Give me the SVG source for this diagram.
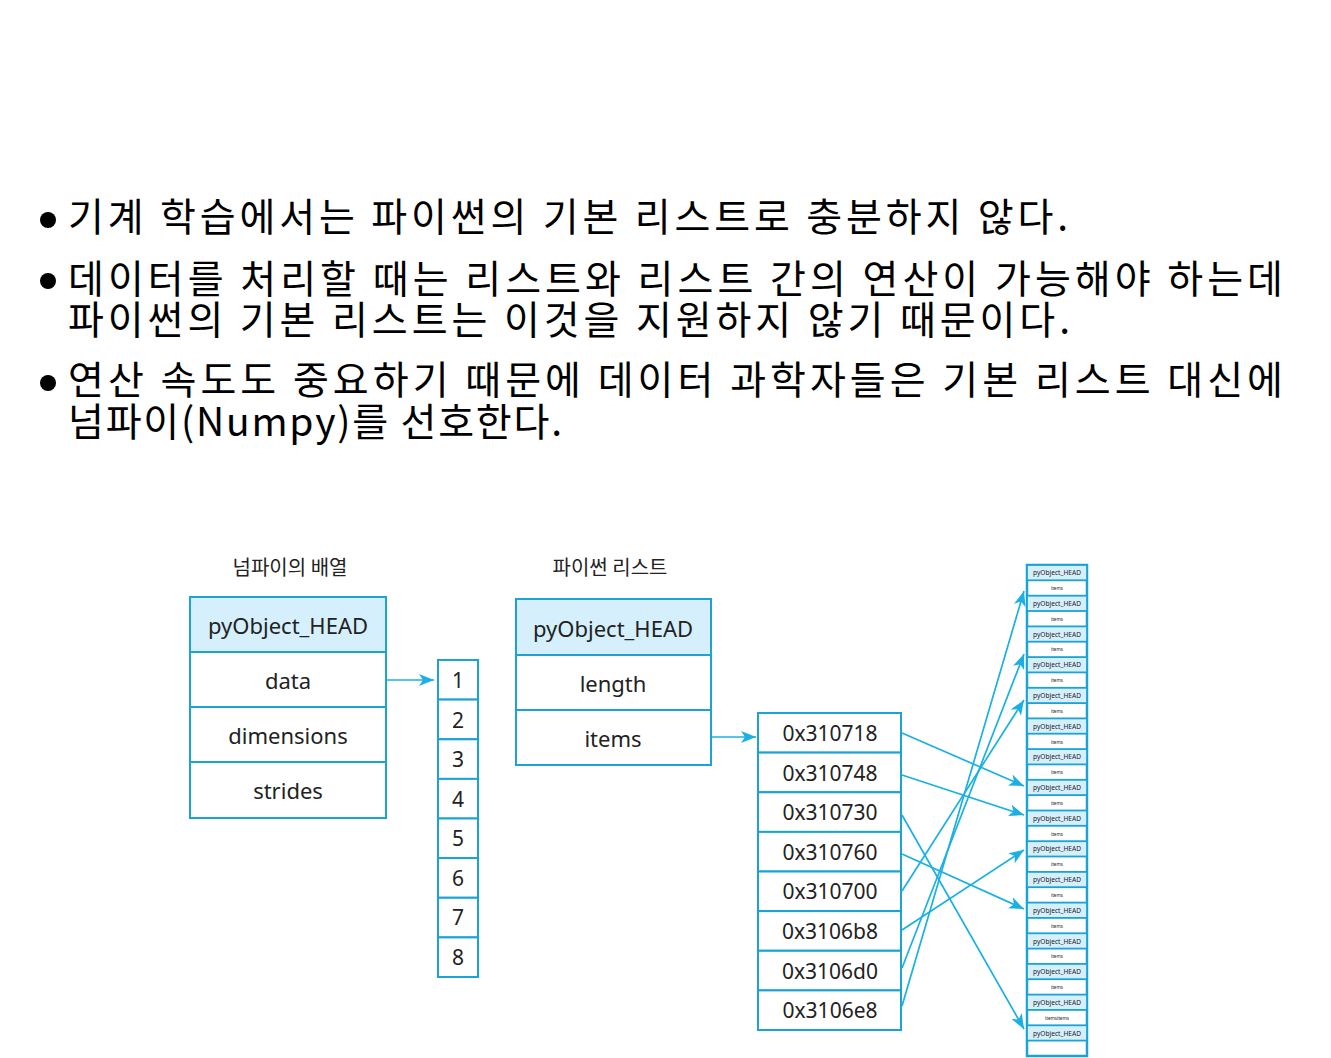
<svg xmlns="http://www.w3.org/2000/svg" width="1331" height="1058" viewBox="0 0 1331 1058">
<style>
.bt{font-family:'Noto Sans CJK KR','Noto Sans',sans-serif;font-size:39px;fill:#000}
.t{font-family:'Noto Sans','Noto Sans CJK KR',sans-serif;fill:#222;text-anchor:middle;dominant-baseline:central}
.f22{font-size:22px}
.f21{font-size:21px}
.ttl{font-family:'Noto Sans CJK KR',sans-serif;font-size:20px;fill:#222;text-anchor:middle}
.box{fill:#fff;stroke:#1ba3d6;stroke-width:2}
.hd{fill:#d5f0fc;stroke:#1ba3d6;stroke-width:2}
.sh{fill:#d5f0fc;stroke:#1ba3d6;stroke-width:1.8}
.sth{font-size:6.6px}
.sti{font-size:4.6px}
.ln{stroke:#1ab0e3;stroke-width:1.7;fill:none;marker-end:url(#ah)}
</style>
<defs>
<marker id="ah" markerUnits="userSpaceOnUse" markerWidth="16" markerHeight="12" refX="15" refY="6" orient="auto">
<path d="M0,0 L15,6 L0,12 L4,6 z" fill="#1ab0e3"/>
</marker>
</defs>
<rect width="1331" height="1058" fill="#fff"/>
<g id="bullets">
<circle cx="48" cy="220" r="8" fill="#000"/>
<text class="bt" x="68" y="231" textLength="1000" lengthAdjust="spacing">기계 학습에서는 파이썬의 기본 리스트로 충분하지 않다.</text>
<circle cx="48" cy="281" r="8" fill="#000"/>
<text class="bt" x="68" y="293" textLength="1215" lengthAdjust="spacing">데이터를 처리할 때는 리스트와 리스트 간의 연산이 가능해야 하는데</text>
<text class="bt" x="68" y="334" textLength="1002" lengthAdjust="spacing">파이썬의 기본 리스트는 이것을 지원하지 않기 때문이다.</text>
<circle cx="48" cy="383" r="8" fill="#000"/>
<text class="bt" x="68" y="394" textLength="1215" lengthAdjust="spacing">연산 속도도 중요하기 때문에 데이터 과학자들은 기본 리스트 대신에</text>
<text class="bt" x="68" y="436" textLength="494" lengthAdjust="spacing">넘파이(Numpy)를 선호한다.</text>
</g>
<g id="numpy-array">
<text class="ttl" x="290" y="575">넘파이의 배열</text>
<rect class="hd" x="190" y="597" width="196" height="55"/>
<rect class="box" x="190" y="652" width="196" height="55"/>
<rect class="box" x="190" y="707" width="196" height="55"/>
<rect class="box" x="190" y="762" width="196" height="56"/>
<text class="t f22" x="288" y="625">pyObject_HEAD</text>
<text class="t f22" x="288" y="680">data</text>
<text class="t f22" x="288" y="735">dimensions</text>
<text class="t f22" x="288" y="790">strides</text>
</g>
<g id="numpy-data">
<rect class="box" x="438" y="660" width="40" height="39.6"/>
<rect class="box" x="438" y="699.6" width="40" height="39.6"/>
<rect class="box" x="438" y="739.3" width="40" height="39.6"/>
<rect class="box" x="438" y="778.9" width="40" height="39.6"/>
<rect class="box" x="438" y="818.5" width="40" height="39.6"/>
<rect class="box" x="438" y="858.1" width="40" height="39.6"/>
<rect class="box" x="438" y="897.8" width="40" height="39.6"/>
<rect class="box" x="438" y="937.4" width="40" height="39.6"/>
<text class="t f21" x="458" y="680">1</text>
<text class="t f21" x="458" y="720">2</text>
<text class="t f21" x="458" y="759">3</text>
<text class="t f21" x="458" y="799">4</text>
<text class="t f21" x="458" y="838">5</text>
<text class="t f21" x="458" y="878">6</text>
<text class="t f21" x="458" y="917">7</text>
<text class="t f21" x="458" y="957">8</text>
</g>
<g id="python-list">
<text class="ttl" x="610" y="575">파이썬 리스트</text>
<rect class="hd" x="516" y="599" width="195" height="56"/>
<rect class="box" x="516" y="655" width="195" height="55"/>
<rect class="box" x="516" y="710" width="195" height="55"/>
<text class="t f22" x="613" y="628">pyObject_HEAD</text>
<text class="t f22" x="613" y="683">length</text>
<text class="t f22" x="613" y="738">items</text>
</g>
<g id="pointers">
<rect class="box" x="758" y="713" width="143" height="39.6"/>
<rect class="box" x="758" y="752.6" width="143" height="39.6"/>
<rect class="box" x="758" y="792.3" width="143" height="39.6"/>
<rect class="box" x="758" y="831.9" width="143" height="39.6"/>
<rect class="box" x="758" y="871.5" width="143" height="39.6"/>
<rect class="box" x="758" y="911.1" width="143" height="39.6"/>
<rect class="box" x="758" y="950.8" width="143" height="39.6"/>
<rect class="box" x="758" y="990.4" width="143" height="39.6"/>
<text class="t f21" x="830" y="733">0x310718</text>
<text class="t f21" x="830" y="773">0x310748</text>
<text class="t f21" x="830" y="812">0x310730</text>
<text class="t f21" x="830" y="852">0x310760</text>
<text class="t f21" x="830" y="891">0x310700</text>
<text class="t f21" x="830" y="931">0x3106b8</text>
<text class="t f21" x="830" y="971">0x3106d0</text>
<text class="t f21" x="830" y="1010">0x3106e8</text>
</g>
<g id="objects">
<rect x="1027" y="565" width="60" height="491" fill="#fff" stroke="#1ba3d6" stroke-width="2.5"/>
<rect class="sh" x="1027" y="565" width="60" height="15.3"/>
<rect class="sh" x="1027" y="595.7" width="60" height="15.3"/>
<rect class="sh" x="1027" y="626.4" width="60" height="15.3"/>
<rect class="sh" x="1027" y="657.1" width="60" height="15.3"/>
<rect class="sh" x="1027" y="687.8" width="60" height="15.3"/>
<rect class="sh" x="1027" y="718.4" width="60" height="15.3"/>
<rect class="sh" x="1027" y="749.1" width="60" height="15.3"/>
<rect class="sh" x="1027" y="779.8" width="60" height="15.3"/>
<rect class="sh" x="1027" y="810.5" width="60" height="15.3"/>
<rect class="sh" x="1027" y="841.2" width="60" height="15.3"/>
<rect class="sh" x="1027" y="871.9" width="60" height="15.3"/>
<rect class="sh" x="1027" y="902.6" width="60" height="15.3"/>
<rect class="sh" x="1027" y="933.3" width="60" height="15.3"/>
<rect class="sh" x="1027" y="963.9" width="60" height="15.3"/>
<rect class="sh" x="1027" y="994.6" width="60" height="15.3"/>
<rect class="sh" x="1027" y="1025.3" width="60" height="15.3"/>
<g class="t sth">
<text x="1057" y="572.7">pyObject_HEAD</text>
<text x="1057" y="603.4">pyObject_HEAD</text>
<text x="1057" y="634.1">pyObject_HEAD</text>
<text x="1057" y="664.8">pyObject_HEAD</text>
<text x="1057" y="695.5">pyObject_HEAD</text>
<text x="1057" y="726.1">pyObject_HEAD</text>
<text x="1057" y="756.8">pyObject_HEAD</text>
<text x="1057" y="787.5">pyObject_HEAD</text>
<text x="1057" y="818.2">pyObject_HEAD</text>
<text x="1057" y="848.9">pyObject_HEAD</text>
<text x="1057" y="879.6">pyObject_HEAD</text>
<text x="1057" y="910.3">pyObject_HEAD</text>
<text x="1057" y="941.0">pyObject_HEAD</text>
<text x="1057" y="971.6">pyObject_HEAD</text>
<text x="1057" y="1002.3">pyObject_HEAD</text>
<text x="1057" y="1033.0">pyObject_HEAD</text>
</g>
<g class="t sti">
<text x="1057" y="588">items</text>
<text x="1057" y="618.7">items</text>
<text x="1057" y="649.4">items</text>
<text x="1057" y="680.1">items</text>
<text x="1057" y="710.8">items</text>
<text x="1057" y="741.5">items</text>
<text x="1057" y="772.2">items</text>
<text x="1057" y="802.8">items</text>
<text x="1057" y="833.5">items</text>
<text x="1057" y="864.2">items</text>
<text x="1057" y="894.9">items</text>
<text x="1057" y="925.6">items</text>
<text x="1057" y="956.3">items</text>
<text x="1057" y="987.0">items</text>
<text x="1057" y="1017.6">itemsitems</text>
</g>
</g>
<g id="connectors">
<line class="ln" x1="387" y1="680" x2="434" y2="680"/>
<line class="ln" x1="712" y1="737" x2="756" y2="737"/>
<line class="ln" x1="902" y1="733" x2="1024" y2="786"/>
<line class="ln" x1="902" y1="775" x2="1024" y2="815"/>
<line class="ln" x1="902" y1="815" x2="1024" y2="1029"/>
<line class="ln" x1="902" y1="854" x2="1024" y2="909"/>
<line class="ln" x1="902" y1="891" x2="1024" y2="700"/>
<line class="ln" x1="902" y1="930" x2="1024" y2="850"/>
<line class="ln" x1="902" y1="968" x2="1024" y2="654"/>
<line class="ln" x1="902" y1="1006" x2="1024" y2="591"/>
</g>
</svg>
